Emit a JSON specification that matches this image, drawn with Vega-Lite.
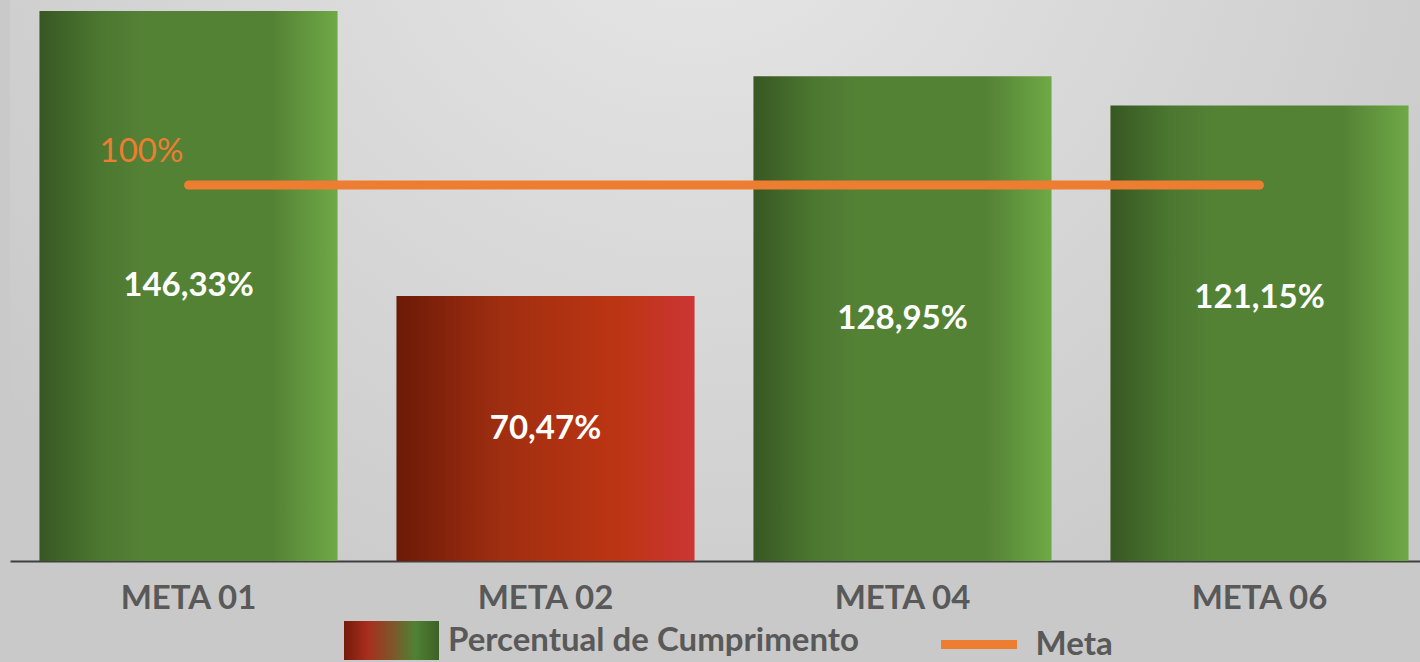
{
  "$schema": "https://vega.github.io/schema/vega-lite/v6.json",
  "width": 1428,
  "height": 561,
  "padding": {"left": 10, "top": 0, "right": 0, "bottom": 0},
  "background": "#c9c9c9",
  "config": {
    "view": {
      "stroke": null,
      "fill": {
        "gradient": "radial",
        "x1": 0.48, "y1": 0.2, "x2": 0.48, "y2": 0.2, "r1": 0, "r2": 0.62,
        "stops": [
          {"offset": 0, "color": "#e8e8e8"},
          {"offset": 0.45, "color": "#dadada"},
          {"offset": 1, "color": "#c9c9c9"}
        ]
      }
    },
    "font": "Lato"
  },
  "data": {
    "values": [
      {"meta": "META 01", "value": 146.33, "label": "146,33%", "target": 100},
      {"meta": "META 02", "value": 70.47, "label": "70,47%", "target": 100},
      {"meta": "META 04", "value": 128.95, "label": "128,95%", "target": 100},
      {"meta": "META 06", "value": 121.15, "label": "121,15%", "target": 100}
    ]
  },
  "encoding": {
    "x": {
      "field": "meta",
      "type": "nominal",
      "sort": null,
      "scale": {"paddingInner": 0.165, "paddingOuter": 0.0825},
      "axis": {
        "title": null,
        "ticks": false,
        "tickSize": 0,
        "grid": false,
        "domainColor": "#404040",
        "domainWidth": 2,
        "labelAngle": 0,
        "labelFont": "Lato",
        "labelFontSize": 33,
        "labelFontWeight": "bold",
        "labelColor": "#595959",
        "labelPadding": 21
      }
    }
  },
  "layer": [
    {
      "mark": {"type": "bar"},
      "encoding": {
        "y": {
          "field": "value",
          "type": "quantitative",
          "scale": {"domain": [0, 149.25], "nice": false, "zero": true},
          "axis": null
        },
        "color": {
          "condition": {
            "test": "datum.value < 100",
            "value": {
              "gradient": "linear", "x1": 0, "y1": 0, "x2": 1, "y2": 0,
              "stops": [
                {"offset": 0, "color": "#6c1a07"},
                {"offset": 0.35, "color": "#a02e10"},
                {"offset": 0.75, "color": "#bc3513"},
                {"offset": 1, "color": "#cc3535"}
              ]
            }
          },
          "value": {
            "gradient": "linear", "x1": 0, "y1": 0, "x2": 1, "y2": 0,
            "stops": [
              {"offset": 0, "color": "#385723"},
              {"offset": 0.2, "color": "#4b7730"},
              {"offset": 0.35, "color": "#548235"},
              {"offset": 0.78, "color": "#548235"},
              {"offset": 1, "color": "#6fa946"}
            ]
          }
        }
      }
    },
    {
      "mark": {
        "type": "point",
        "filled": true,
        "opacity": 0,
        "strokeWidth": 0,
        "fill": {
          "gradient": "linear", "x1": 0, "y1": 0, "x2": 1, "y2": 0,
          "stops": [
            {"offset": 0, "color": "#751a0a"},
            {"offset": 0.25, "color": "#a82e1e"},
            {"offset": 0.5, "color": "#80542a"},
            {"offset": 0.75, "color": "#4f8234"},
            {"offset": 1, "color": "#3e6027"}
          ]
        }
      },
      "encoding": {
        "y": {"field": "value", "type": "quantitative"},
        "shape": {
          "datum": "Percentual de Cumprimento",
          "type": "nominal",
          "scale": {"domain": ["Percentual de Cumprimento"], "range": ["M-1,-0.41H1V0.41H-1Z"]},
          "legend": {
            "title": null,
            "orient": "none",
            "legendX": 334,
            "legendY": 593,
            "padding": 0,
            "symbolSize": 9025,
            "symbolOpacity": 1,
            "symbolStrokeWidth": 0,
            "labelFont": "Lato",
            "labelFontSize": 33,
            "labelFontWeight": "bold",
            "labelColor": "#595959",
            "labelOffset": 9,
            "labelLimit": 0
          }
        }
      }
    },
    {
      "transform": [
        {"calculate": "datum.meta === 'META 06' ? datum.value * 0.578 : datum.value / 2", "as": "labelPos"}
      ],
      "mark": {
        "type": "text",
        "font": "Lato",
        "fontSize": 33,
        "fontWeight": "bold",
        "color": "#ffffff",
        "align": "center",
        "baseline": "middle"
      },
      "encoding": {
        "y": {"field": "labelPos", "type": "quantitative"},
        "text": {"field": "label"}
      }
    },
    {
      "mark": {"type": "line", "strokeWidth": 9, "strokeCap": "round"},
      "encoding": {
        "y": {"field": "target", "type": "quantitative"},
        "stroke": {
          "datum": "Meta",
          "type": "nominal",
          "scale": {"domain": ["Meta"], "range": ["#ed7d31"]},
          "legend": {
            "title": null,
            "orient": "none",
            "legendX": 926.5,
            "legendY": 602,
            "padding": 0,
            "symbolType": "stroke",
            "symbolSize": 5776,
            "symbolStrokeWidth": 9,
            "symbolOpacity": 1,
            "labelFont": "Lato",
            "labelFontSize": 33,
            "labelFontWeight": "bold",
            "labelColor": "#595959",
            "labelOffset": 14,
            "labelLimit": 0
          }
        }
      }
    },
    {
      "transform": [{"filter": "datum.meta === 'META 01'"}],
      "mark": {
        "type": "text",
        "font": "Lato",
        "fontSize": 33,
        "color": "#ed7d31",
        "align": "center",
        "baseline": "middle",
        "dx": -47,
        "dy": -33
      },
      "encoding": {
        "y": {"field": "target", "type": "quantitative"},
        "text": {"value": "100%"}
      }
    }
  ]
}
